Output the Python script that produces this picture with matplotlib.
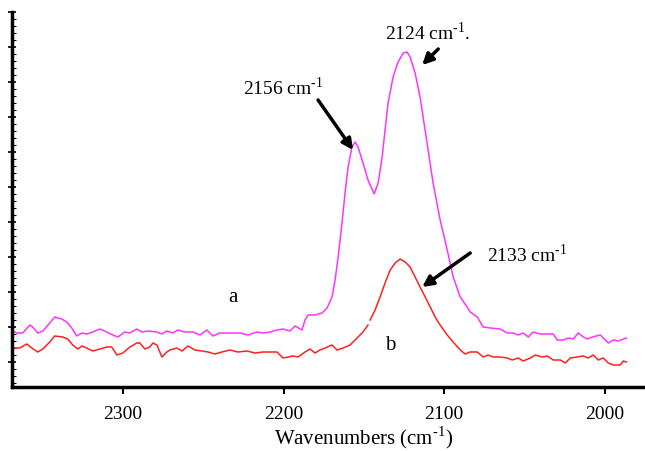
import numpy as np
import matplotlib
matplotlib.use("Agg")
import matplotlib.pyplot as plt
from matplotlib.ticker import FixedLocator

plt.rcParams['font.family'] = ['Liberation Serif', 'DejaVu Serif']
plt.rcParams['mathtext.fontset'] = 'custom'
plt.rcParams['mathtext.rm'] = 'Liberation Serif'

# ---- data: spectrum a (magenta) ----
wn_a = [2368.5, 2366.0, 2362.3, 2357.9, 2356.1, 2353.0, 2349.8, 2345.5, 2342.4, 2338.0,
        2334.9, 2331.8, 2328.7, 2325.5, 2322.4, 2318.7, 2314.3, 2310.0, 2306.2, 2303.1,
        2298.8, 2295.6, 2291.3, 2288.2, 2284.4, 2278.8, 2275.7, 2272.6, 2268.8, 2265.7,
        2261.4, 2256.4, 2252.0, 2247.7, 2243.9, 2239.6, 2235.2, 2231.5, 2227.1, 2222.1,
        2216.5, 2212.8, 2208.4, 2204.1, 2200.3, 2196.0, 2192.8, 2188.5, 2186.6, 2184.7,
        2180.4, 2176.0, 2172.9, 2169.8, 2167.9, 2166.0, 2163.6, 2161.7, 2159.8, 2157.4,
        2155.4, 2153.6, 2150.5, 2147.4, 2143.6, 2141.1, 2138.6, 2136.8, 2134.9, 2131.8,
        2128.7, 2125.5, 2123.1, 2121.2, 2118.1, 2115.0, 2113.1, 2110.0, 2106.9, 2102.5,
        2098.1, 2094.4, 2090.0, 2085.7, 2083.8, 2079.4, 2075.7, 2071.3, 2065.1, 2060.7,
        2057.0, 2053.9, 2050.8, 2047.7, 2044.6, 2040.2, 2032.1, 2029.6, 2025.9, 2022.7,
        2019.6, 2016.5, 2013.4, 2010.9, 2007.8, 2002.8, 2001.0, 1997.8, 1994.7, 1991.6,
        1986.6]
int_a = [56, 54, 54, 62, 60, 54, 56, 64, 70, 68,
         65, 59, 51, 54, 53, 55, 58, 55, 52, 50,
         55, 54, 58, 55, 56, 55, 53, 56, 54, 57,
         55, 55, 52, 57, 51, 54, 54, 54, 54, 52,
         55, 54, 55, 57, 58, 56, 61, 57, 67, 72,
         72, 74, 79, 90, 107, 130, 164, 194, 220, 240,
         245, 240, 224, 207, 193, 204, 230, 257, 284, 310,
         325, 334, 335, 330, 314, 290, 270, 237, 204, 167,
         137, 110, 90, 80, 75, 70, 60, 59, 58, 54,
         54, 52, 54, 50, 55, 53, 53, 47, 47, 49,
         48, 54, 50, 48, 50, 52, 49, 44, 47, 46,
         49]

# ---- data: spectrum b (red) ----
wn_b = [2368.5, 2364.2, 2359.8, 2356.7, 2353.0, 2349.8, 2345.5, 2342.4, 2337.4, 2334.3,
        2331.2, 2328.0, 2325.5, 2322.4, 2318.7, 2314.3, 2310.0, 2306.9, 2303.7, 2300.0,
        2295.6, 2291.3, 2289.4, 2286.3, 2283.2, 2281.3, 2278.8, 2275.7, 2272.6, 2270.7,
        2266.4, 2263.2, 2259.5, 2255.1, 2250.8, 2247.0, 2242.7, 2238.3, 2233.3, 2228.3,
        2222.7, 2217.8, 2212.8, 2204.1, 2200.3, 2197.2, 2194.1, 2191.0, 2186.6, 2183.5,
        2180.4, 2177.3, 2174.1, 2169.8, 2166.7, 2162.9, 2158.6, 2154.2, 2150.5, 2147.4,
        2146.8, 2146.1, 2143.0, 2139.9, 2136.8, 2133.6, 2130.5, 2127.4, 2124.3, 2121.2,
        2118.1, 2115.0, 2111.8, 2108.7, 2105.6, 2102.5, 2098.1, 2094.4, 2090.0, 2086.9,
        2083.8, 2079.4, 2075.7, 2072.6, 2069.5, 2065.1, 2060.7, 2057.6, 2053.9, 2050.8,
        2046.4, 2043.3, 2039.0, 2035.8, 2032.1, 2027.7, 2024.6, 2021.5, 2017.1, 2013.4,
        2010.3, 2007.2, 2004.1, 2001.0, 1997.8, 1994.7, 1990.4, 1988.5, 1986.6]
int_b = [39, 39, 43, 39, 35, 38, 45, 51, 50, 48,
         42, 38, 41, 39, 36, 38, 40, 40, 32, 34,
         40, 44, 44, 38, 40, 44, 42, 30, 35, 37,
         39, 36, 41, 37, 36, 35, 33, 35, 37, 35,
         36, 34, 35, 35, 29, 30, 31, 30, 35, 38,
         34, 37, 39, 42, 37, 39, 42, 49, 55, 62,
         np.nan, 67, 77, 90, 104, 117, 124, 128, 125, 120,
         110, 100, 90, 80, 70, 62, 52, 45, 37, 33,
         35, 35, 30, 32, 30, 30, 29, 27, 29, 26,
         29, 32, 30, 31, 27, 27, 24, 29, 30, 31,
         29, 32, 27, 29, 24, 22, 22, 26, 25]

x_ticks = [2300, 2200, 2100, 2000]
x_tick_labels = ['2300', '2200', '2100', '2000']

SUP = r'$^{\mathrm{\text{-}1}}$'

fig = plt.figure(figsize=(6.45, 4.51), dpi=100)
ax = fig.add_axes([12/645, 64/451, 633/645, 375/451])

ax.plot(wn_a, int_a, color='#ff33ff', lw=1.1)
ax.plot(wn_b, int_b, color='#ff2020', lw=1.1)

ax.set_xlim(2369, 1975)
ax.set_ylim(0, 375)

ax.spines['top'].set_visible(False)
ax.spines['right'].set_visible(False)
ax.spines['left'].set_linewidth(2.5)
ax.spines['bottom'].set_linewidth(2.5)

ax.set_xticks(x_ticks)
ax.set_xticklabels(x_tick_labels)
ax.tick_params(axis='x', direction='out', length=5, width=1.5, labelsize=14, pad=9)

ax.yaxis.set_major_locator(FixedLocator(np.arange(25, 376, 35)))
ax.yaxis.set_minor_locator(FixedLocator(np.arange(4, 376, 7)))
ax.tick_params(axis='y', which='major', direction='inout', length=6, width=1.2, labelleft=False)
ax.tick_params(axis='y', which='minor', direction='in', length=3, width=0.8)

ax.set_xlabel('Wavenumbers (cm' + SUP + ')', fontsize=15)
ax.xaxis.set_label_coords(0.555, -0.10)

arrow = dict(arrowstyle='-|>', color='black', lw=2.5, mutation_scale=16, shrinkA=0, shrinkB=0)
ax.annotate('', xy=(2156.7, 237), xytext=(2178.5, 287), arrowprops=arrow)
ax.annotate('', xy=(2113.7, 322), xytext=(2103.7, 338), arrowprops=arrow)
ax.annotate('', xy=(2113.7, 100), xytext=(2083.8, 134), arrowprops=arrow)

ax.text(2200.3, 299, '2156 cm' + SUP, fontsize=14, ha='center', va='center')
ax.text(2110, 354, '2124 cm' + SUP + '.', fontsize=14, ha='center', va='center')
ax.text(2073.2, 132, '2133 cm' + SUP, fontsize=14, ha='left', va='center')
ax.text(2231.5, 90, 'a', fontsize=15, ha='center', va='center')
ax.text(2133.6, 42, 'b', fontsize=15, ha='center', va='center')

fig.savefig('out.png', dpi=100)
